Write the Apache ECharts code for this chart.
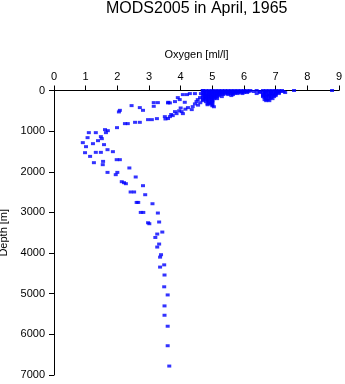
<!DOCTYPE html>
<html>
<head>
<meta charset="utf-8">
<script src="https://cdn.jsdelivr.net/npm/echarts@6/dist/echarts.min.js"></script>
<style>html,body{margin:0;padding:0;background:#fff}#c{width:345px;height:384px}</style>
</head>
<body>
<div id="c"></div>
<script>
var titleText = "MODS2005 in April, 1965";
var xName = "Oxygen [ml/l]";
var yName = "Depth [m]";
var xTicks = [0,1,2,3,4,5,6,7,8,9];
var yTicks = [0,1000,2000,3000,4000,5000,6000,7000];

// deep profile [oxygen, depth]
var deepProfile = [
 [3.64,6780],[3.59,6280],[3.59,5800],[3.49,5530],[3.49,5300],[3.59,5030],[3.48,4830],
 [3.49,4540],[3.35,4345],[3.48,4290],[3.38,4040],[3.35,4100],[3.32,3778],[3.26,3852],
 [3.42,3483],[3.26,3532],[3.20,3616],[3.32,3236],[2.97,3254],[3.01,3278],[3.28,3015],
 [2.74,3000],[2.82,3000],[3.11,2786],[2.61,2754],[2.66,2754],[2.88,2564],[2.42,2497],
 [2.53,2497],[2.81,2342],[2.14,2244],[2.21,2268],[2.27,2293],[2.58,2128],[1.95,2071],
 [1.69,2015],[2.00,2015],[2.38,1906],[1.54,1825],[1.55,1744],[1.26,1776],[1.98,1702],
 [2.08,1702],[1.14,1621],[1.32,1522],[1.48,1522],[0.98,1530],[1.86,1505],[1.69,1456],
 [1.01,1382],[1.58,1332],[1.23,1308],[0.91,1283],[1.06,1160],[1.48,1135],[1.51,1185],
 [1.39,1234],[1.10,1037],[1.32,1037],[1.61,963],[1.70,988],[1.64,1037],[1.99,914]
];
// intermediate layer
var midLayer = [
 [2.24,815],[2.33,815],[2.56,783],[2.71,783],[2.97,717],[3.09,717],[3.25,692],[3.50,643],
 [3.66,643],[3.75,618],[3.82,520],[3.87,569],[4.03,520],[4.07,569],[4.23,421],[4.38,397],
 [4.35,470],[2.08,488],[2.05,527],[2.45,372],[2.71,421],[2.81,488],[3.15,389],[3.15,298],
 [3.28,298],[3.60,305],[3.66,305],[3.61,290],[3.82,273],[3.91,175],[3.97,224],[4.07,101],
 [4.20,101],[4.29,76],[4.45,76],[4.13,290],[4.50,273],[4.54,224],[4.61,175],[4.64,76],
 [4.70,3],[3.52,700],[3.60,690],[3.70,590],[3.95,500],[4.15,460],[4.00,430],[4.45,330],
 [4.55,360],[4.62,300]
];
// dense surface cluster
var surface = [
 [4.7,0],[4.8,0],[4.9,0],[5.0,0],[5.1,0],[5.2,0],[5.3,0],[5.4,0],[5.5,0],[5.6,0],[5.7,0],
 [5.8,0],[5.9,0],[6.0,0],[6.1,0],[6.2,0],[6.4,0],[6.6,0],[6.7,0],[6.8,0],[6.9,0],[7.0,0],
 [7.1,0],[7.2,0],[7.58,0],[8.78,0],
 [4.75,25],[4.85,25],[4.95,25],[5.05,25],[5.15,25],[5.25,25],[5.35,25],[5.45,25],[5.55,25],
 [5.65,25],[5.75,25],[5.85,25],[5.95,25],[6.05,25],[6.15,25],[6.3,25],[6.5,25],[6.65,25],
 [6.75,25],[6.85,25],[6.95,25],[7.05,25],[7.15,25],[7.25,25],
 [4.75,50],[4.9,50],[5.0,50],[5.1,50],[5.2,50],[5.3,50],[5.4,50],[5.5,50],[5.6,50],[5.7,50],
 [5.8,50],[5.9,50],[6.0,50],[6.1,50],[6.5,50],[6.6,50],[6.7,50],[6.85,50],[7.0,50],[7.1,50],[7.3,50],
 [4.7,75],[4.8,75],[4.9,75],[5.0,75],[5.1,75],[5.2,75],[5.3,75],[5.4,75],[5.5,75],[5.6,75],
 [5.7,75],[5.8,75],[5.95,75],[6.4,75],[6.65,75],[6.8,75],[6.9,75],[7.0,75],[7.1,75],
 [4.75,100],[4.85,100],[4.95,100],[5.05,100],[5.15,100],[5.25,100],[5.35,100],[5.5,100],
 [5.65,100],[6.6,100],[6.7,100],[6.8,100],[6.9,100],[7.0,100],
 [4.7,125],[4.8,125],[4.9,125],[5.0,125],[5.1,125],[5.2,125],[5.6,125],[6.6,125],[6.7,125],
 [6.8,125],[6.9,125],[7.0,125],
 [4.75,150],[4.85,150],[4.95,150],[5.05,150],[5.15,150],[5.3,150],[6.6,150],[6.7,150],
 [6.8,150],[6.95,150],
 [4.7,175],[4.8,175],[4.9,175],[5.0,175],[5.1,175],[6.65,175],[6.85,175],
 [4.75,200],[4.85,200],[4.95,200],[5.05,200],[5.15,200],[6.7,200],[6.8,200],[6.9,200],
 [4.7,225],[4.8,225],[4.9,225],[5.0,225],[6.65,225],[6.75,225],
 [4.7,250],[4.85,250],[5.0,250],[6.7,250],[6.8,250],
 [4.8,275],[4.9,275],[5.0,275],
 [4.9,300],[5.0,300],[4.85,325],[4.95,325],[4.85,350],[5.0,350],[5.0,375],[5.05,400]
];

var chart = echarts.init(document.getElementById('c'));
var font = "'Liberation Sans', Arial, sans-serif";
chart.setOption({
  animation: false,
  backgroundColor: '#fff',
  title: {
    text: titleText, left: 106, top: 1, padding: 0,
    textStyle: {fontFamily: font, fontSize: 16, fontWeight: 'normal', color: '#000'}
  },
  grid: {left: 54, right: 6, top: 90.5, bottom: 9, containLabel: false, outerBoundsMode: 'none'},
  xAxis: {
    type: 'value', position: 'top', min: xTicks[0], max: xTicks[xTicks.length-1], interval: 1,
    name: xName, nameLocation: 'middle', nameGap: 30,
    nameTextStyle: {fontFamily: font, fontSize: 11, color: '#000'},
    axisLine: {lineStyle: {color: '#000', width: 1}},
    axisTick: {length: 5, lineStyle: {color: '#000'}},
    axisLabel: {fontFamily: font, fontSize: 11, color: '#000', margin: 8},
    splitLine: {show: false}
  },
  yAxis: {
    type: 'value', inverse: true, min: yTicks[0], max: yTicks[yTicks.length-1], interval: 1000,
    name: yName, nameLocation: 'middle', nameGap: 37,
    nameTextStyle: {fontFamily: font, fontSize: 11, color: '#000'},
    axisLine: {show: true, lineStyle: {color: '#000', width: 1}},
    axisTick: {show: true, length: 5, lineStyle: {color: '#000'}},
    axisLabel: {fontFamily: font, fontSize: 11, color: '#000', margin: 9,
      formatter: function (v) { return String(v); }},
    splitLine: {show: false}
  },
  series: [deepProfile, midLayer, surface].map(function (d) {
    return {type: 'scatter', data: d, symbol: 'rect', symbolSize: [4, 3],
      itemStyle: {color: '#0000ff'}, silent: true};
  })
});
</script>
</body>
</html>
